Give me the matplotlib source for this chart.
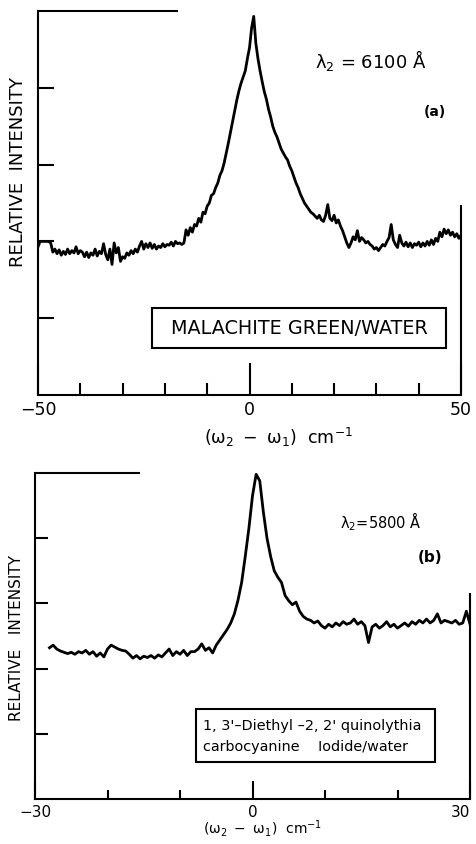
import numpy as np
import matplotlib
matplotlib.use('Agg')
import matplotlib.pyplot as plt
from matplotlib.patches import Rectangle

plt.rcParams['font.family'] = ['DejaVu Sans']
plt.rcParams['mathtext.fontset'] = 'dejavusans'

# ---------------- data ----------------
# panel (a): Malachite green / water, lambda2 = 6100 A
shift_a = np.arange(-50, 50.01, 0.5)
intensity_a = [
    1.93, 2.00, 2.00, 2.00, 2.00, 2.00, 1.98, 1.86, 1.90, 1.84,
    1.89, 1.82, 1.87, 1.83, 1.90, 1.84, 1.88, 1.85, 1.93, 1.84,
    1.88, 1.86, 1.80, 1.86, 1.79, 1.85, 1.82, 1.90, 1.81, 1.87,
    1.84, 1.97, 1.83, 1.76, 1.90, 1.70, 1.98, 1.85, 1.92, 1.74,
    1.80, 1.78, 1.85, 1.82, 1.88, 1.84, 1.90, 1.86, 1.94, 2.00,
    1.90, 1.97, 1.92, 1.98, 1.91, 1.96, 1.90, 1.94, 1.92, 1.97,
    1.93, 1.96, 1.95, 1.99, 1.94, 2.00, 1.97, 1.98, 1.96, 1.98,
    2.15, 2.08, 2.18, 2.12, 2.22, 2.20, 2.30, 2.25, 2.38, 2.36,
    2.46, 2.50, 2.60, 2.62, 2.70, 2.76, 2.86, 2.92, 3.02, 3.15,
    3.28, 3.42, 3.56, 3.70, 3.84, 3.96, 4.06, 4.14, 4.22, 4.38,
    4.52, 4.78, 4.93, 4.58, 4.38, 4.22, 4.08, 3.95, 3.85, 3.72,
    3.62, 3.50, 3.42, 3.36, 3.28, 3.20, 3.15, 3.10, 3.06, 2.98,
    2.92, 2.84, 2.76, 2.70, 2.62, 2.56, 2.50, 2.46, 2.42, 2.38,
    2.36, 2.33, 2.30, 2.34, 2.28, 2.26, 2.34, 2.48, 2.30, 2.27,
    2.34, 2.24, 2.28, 2.20, 2.14, 2.06, 1.98, 1.92, 1.98, 2.06,
    2.02, 2.14, 2.00, 2.05, 2.02, 1.98, 2.00, 1.96, 1.94, 1.90,
    1.92, 1.88, 1.92, 1.96, 1.94, 2.00, 2.05, 2.22, 2.02, 1.96,
    1.92, 2.08, 1.98, 1.94, 1.99, 1.93, 1.98, 1.92, 1.97, 1.95,
    1.99, 1.93, 1.98, 1.94, 2.00, 1.95, 2.02, 1.96, 2.04, 2.00,
    2.12, 2.06, 2.16, 2.10, 2.15, 2.08, 2.12, 2.06, 2.10, 2.04,
    2.08,
]

# panel (b): 1,3'-Diethyl-2,2' quinolythiacarbocyanine iodide / water, lambda2 = 5800 A
shift_b = np.arange(-28, 30.01, 0.5)
intensity_b = [
    2.32, 2.36, 2.30, 2.27, 2.25, 2.23, 2.25, 2.22, 2.26, 2.24,
    2.28, 2.22, 2.26, 2.19, 2.24, 2.18, 2.30, 2.36, 2.33, 2.30,
    2.28, 2.27, 2.22, 2.16, 2.20, 2.15, 2.19, 2.17, 2.20, 2.16,
    2.21, 2.18, 2.24, 2.30, 2.20, 2.26, 2.22, 2.28, 2.20, 2.26,
    2.26, 2.30, 2.38, 2.28, 2.32, 2.24, 2.36, 2.44, 2.52, 2.60,
    2.70, 2.84, 3.05, 3.32, 3.72, 4.15, 4.65, 4.98, 4.88, 4.40,
    4.00, 3.72, 3.50, 3.40, 3.32, 3.12, 3.04, 2.98, 3.02, 2.88,
    2.80, 2.76, 2.74, 2.70, 2.73, 2.66, 2.62, 2.68, 2.64, 2.70,
    2.66, 2.72, 2.68, 2.70, 2.76, 2.68, 2.72, 2.66, 2.40, 2.64,
    2.68, 2.62, 2.66, 2.72, 2.64, 2.68, 2.62, 2.66, 2.70, 2.65,
    2.72, 2.68, 2.74, 2.70, 2.76, 2.70, 2.74, 2.84, 2.70, 2.74,
    2.72, 2.70, 2.74, 2.68, 2.70, 2.88, 2.68,
]

xmajor_a = [-50, 0, 50]
xmajor_labels_a = ['\u221250', '0', '50']
xminor_a = [-40, -30, -20, -10, 10, 20, 30, 40]
xmajor_b = [-30, 0, 30]
xmajor_labels_b = ['\u221230', '0', '30']
xminor_b = [-20, -10, 10, 20]
yticks = [1, 2, 3, 4]

# ---------------- figure ----------------
W, H = 477, 844
fig = plt.figure(figsize=(W / 100, H / 100), dpi=100)
fig.patch.set_facecolor('white')


def px_axes(l, t, r, b):
    return [l / W, 1 - b / H, (r - l) / W, (b - t) / H]


def fx(x):
    return x / W


def fy(y):
    return 1 - y / H


LW_AX = 1.5
LW_LINE = 2.0


def style_axes(ax, xlim, xmaj, xlab, xmin, maj_len, min_len, y_len, labsize, top_end, right_end):
    ax.set_xlim(*xlim)
    ax.set_ylim(0, 5)
    for s in ['top', 'right']:
        ax.spines[s].set_visible(False)
    for s in ['left', 'bottom']:
        ax.spines[s].set_linewidth(LW_AX)
    ax.set_xticks(xmaj)
    ax.set_xticklabels(xlab)
    ax.set_xticks(xmin, minor=True)
    ax.tick_params(axis='x', which='major', direction='in', length=maj_len, width=LW_AX,
                   pad=4, labelsize=labsize)
    ax.tick_params(axis='x', which='minor', direction='in', length=min_len, width=LW_AX)
    ax.set_yticks(yticks)
    ax.set_yticklabels([])
    ax.tick_params(axis='y', which='major', direction='in', length=y_len, width=LW_AX)
    # partial top and right frame lines
    ax.plot([xlim[0], top_end], [5, 5], color='black', lw=LW_AX, clip_on=False,
            solid_capstyle='butt')
    ax.plot([xlim[1], xlim[1]], [0, right_end], color='black', lw=LW_AX, clip_on=False,
            solid_capstyle='butt')


# panel (a)
ax_a = fig.add_axes(px_axes(38, 11, 461, 395))
ax_a.plot(shift_a, intensity_a, color='black', lw=LW_LINE, solid_joinstyle='round')
style_axes(ax_a, (-50, 50), xmajor_a, xmajor_labels_a, xminor_a,
           23, 8.6, 11.5, 12.5, -17, 2.47)

# panel (b)
ax_b = fig.add_axes(px_axes(35, 473, 470, 799))
ax_b.plot(shift_b, intensity_b, color='black', lw=LW_LINE, solid_joinstyle='round')
style_axes(ax_b, (-30, 30), xmajor_b, xmajor_labels_b, xminor_b,
           13, 6.5, 9.4, 11, -15.5, 3.16)
# keep the right-hand "30" inside the picture
for lab in ax_b.get_xticklabels():
    if lab.get_text() == '30':
        lab.set_horizontalalignment('right')
        lab.set_x(30)
ax_b.xaxis.get_major_ticks()[-1].label1.set_horizontalalignment('right')

# ---------------- texts ----------------
fig.text(fx(18), fy(172), 'RELATIVE  INTENSITY', rotation=90, ha='center', va='center',
         fontsize=13)
fig.text(fx(17), fy(638), 'RELATIVE   INTENSITY', rotation=90, ha='center', va='center',
         fontsize=11)

xlab = r'$(\mathrm{\omega}_2\ -\ \mathrm{\omega}_1)\ \ \mathrm{cm}^{-1}$'
fig.text(fx(278), fy(437), xlab, ha='center', va='center', fontsize=12.5)
fig.text(fx(263), fy(829), xlab, ha='center', va='center', fontsize=10)

fig.text(fx(315), fy(68), r'$\mathrm{\lambda}_2$ = 6100 Å', ha='left', va='baseline',
         fontsize=13)
fig.text(fx(435), fy(112), '(a)', ha='center', va='center', fontsize=10, fontweight='bold')

fig.text(fx(340), fy(528), r'$\mathrm{\lambda}_2$=5800 Å', ha='left', va='baseline',
         fontsize=10.5)
fig.text(fx(430), fy(558), '(b)', ha='center', va='center', fontsize=11, fontweight='bold')

# label boxes
fig.patches.append(Rectangle((fx(152), fy(348)), (446 - 152) / W, (348 - 308) / H,
                             transform=fig.transFigure, fill=False, ec='black', lw=LW_AX))
fig.text(fx(299), fy(328), 'MALACHITE GREEN/WATER', ha='center', va='center', fontsize=13.8)

fig.patches.append(Rectangle((fx(196), fy(762)), (435 - 196) / W, (762 - 709) / H,
                             transform=fig.transFigure, fill=False, ec='black', lw=LW_AX))
fig.text(fx(203), fy(726), "1, 3'\u2013Diethyl \u20132, 2' quinolythia", ha='left', va='center',
         fontsize=10.4)
fig.text(fx(203), fy(747), 'carbocyanine    Iodide/water', ha='left', va='center',
         fontsize=10.4)

fig.savefig('out.png', dpi=100, facecolor='white')
